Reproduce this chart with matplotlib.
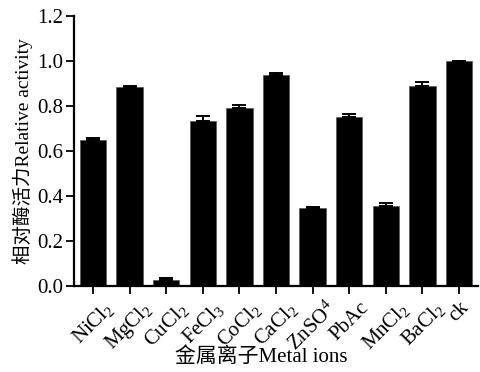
import matplotlib
matplotlib.use("Agg")
import matplotlib.pyplot as plt
import numpy as np

plt.rcParams['font.family'] = ['Liberation Serif', 'Noto Sans CJK SC']
plt.rcParams['mathtext.fontset'] = 'custom'
plt.rcParams['mathtext.rm'] = 'Liberation Serif'
plt.rcParams['mathtext.it'] = 'Liberation Serif'

categories = ["NiCl$_2$", "MgCl$_2$", "CuCl$_2$", "FeCl$_3$", "CoCl$_2$", "CaCl$_2$",
              "ZnSO$^4$", "PbAc", "MnCl$_2$", "BaCl$_2$", "ck"]
activity = [0.649, 0.885, 0.028, 0.735, 0.790, 0.940, 0.345, 0.750, 0.355, 0.890, 1.000]
error = [0.007, 0.006, 0.007, 0.020, 0.015, 0.006, 0.007, 0.014, 0.015, 0.015, 0.0]
yticks = [0.0, 0.2, 0.4, 0.6, 0.8, 1.0, 1.2]

fig = plt.figure(figsize=(4.8, 3.72), dpi=100)
ax = fig.add_axes([74/480, 1-286/372, (478-74)/480, (286-16)/372])

x = np.arange(len(categories))
ax.bar(x, activity, width=0.72, color='black', edgecolor='#555555', linewidth=0.5, zorder=2)
ax.errorbar(x, activity, yerr=[np.zeros(len(error)), error], fmt='none',
            ecolor='black', elinewidth=1.4, capsize=5, capthick=1.4, zorder=3)

ax.set_xlim(-0.52, 10.52)
ax.set_ylim(0, 1.2)
ax.set_yticks(yticks)
ax.set_yticklabels([f"{v:.1f}" for v in yticks], fontsize=15)
ax.set_xticks(x)
ax.set_xticklabels(categories, rotation=45, ha='center', va='top',
                   rotation_mode='default', fontsize=15)

for side in ['top', 'right']:
    ax.spines[side].set_visible(False)
for side in ['left', 'bottom']:
    ax.spines[side].set_linewidth(1.6)
ax.tick_params(axis='both', direction='out', length=6, width=1.3)
ax.tick_params(axis='y', pad=2)
ax.tick_params(axis='x', pad=3)

ax.set_ylabel("相对酶活力Relative activity", fontsize=14, labelpad=3)
ax.set_xlabel("金属离子Metal ions", fontsize=15, labelpad=0)
ax.xaxis.set_label_coords((261 - 74) / 404, -0.228)
ax.xaxis.label.set_va('top')

fig.savefig("out.png", dpi=100)
